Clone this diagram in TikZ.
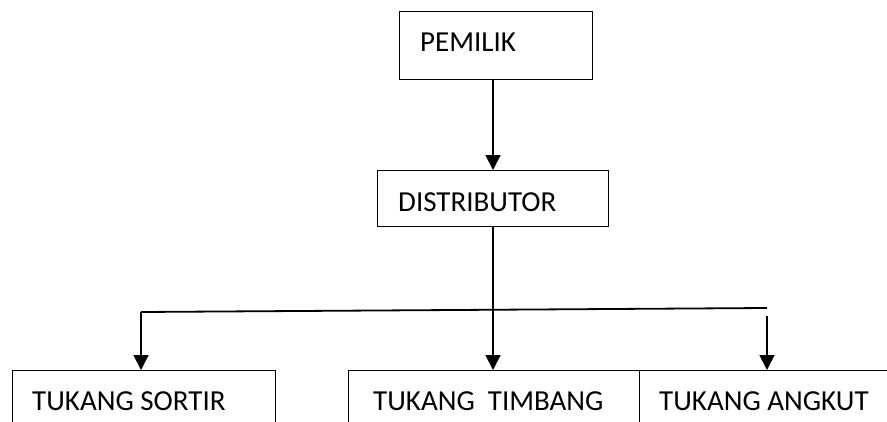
\documentclass[tikz,border=0pt]{standalone}
\usepackage{fontspec}
\setmainfont{Carlito}
\usetikzlibrary{arrows.meta}
\begin{document}
\begin{tikzpicture}[x=1pt,y=-1pt,
  box/.style={draw=black, line width=1.4pt, rectangle, inner sep=0pt, anchor=north west},
  lbl/.style={font=\fontsize{29}{32}\selectfont, inner sep=0pt, anchor=base west},
  conn/.style={line width=1.8pt},
  arr/.style={line width=1.8pt, -{Triangle[length=15pt,width=15pt]}}]
\useasboundingbox (0,0) rectangle (887,421);
\clip (0,0) rectangle (887,421);
\fill[white] (0,0) rectangle (887,421);
% boxes
\node[box, minimum width=193pt, minimum height=68pt] (pem) at (399,11) {};
\node[box, minimum width=231pt, minimum height=56pt] (dis) at (377,170) {};
\node[box, minimum width=263pt, minimum height=80pt] (sor) at (12,370) {};
\node[box, minimum width=291pt, minimum height=80pt] (tim) at (348,370) {};
\node[box, minimum width=280pt, minimum height=80pt] (ang) at (639,370) {};
% labels
\node[lbl] (pemt) at (420,51) {PEMILIK};
\node[lbl] (dist) at (398,211) {DISTRIBUTOR};
\node[lbl] (sort) at (32,410) {TUKANG SORTIR};
\node[lbl] (timt) at (373,410) {TUKANG\ \ TIMBANG};
\node[lbl] (angt) at (659,410) {TUKANG ANGKUT};
% connectors
\coordinate (hl) at (141,312);
\coordinate (hr) at (767,308);
\coordinate (rs) at (767,316);
\draw[arr] (pem.south -| 493,0) -- (dis.north -| 493,0);
\draw[arr] (dis.south -| 493,0) -- (tim.north -| 493,0);
\draw[conn] (hr) -- (hl);
\draw[arr] (hl) -- (sor.north -| hl);
\draw[arr] (rs) -- (ang.north -| rs);
\end{tikzpicture}
\end{document}
